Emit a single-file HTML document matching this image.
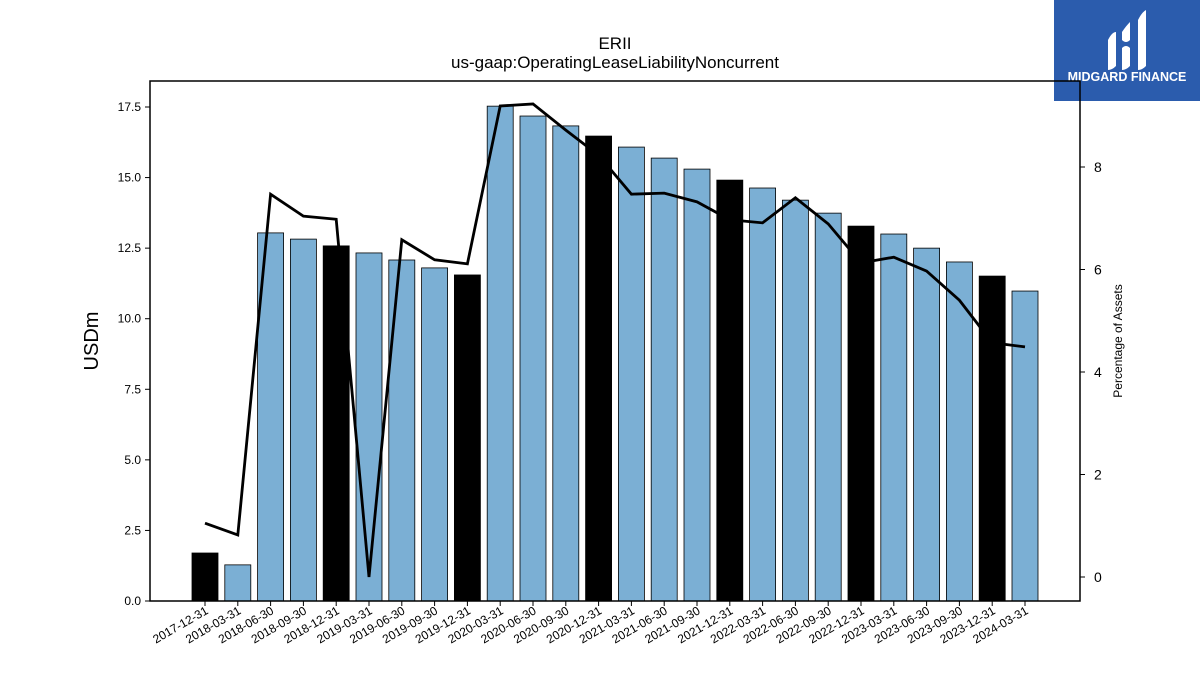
<!DOCTYPE html>
<html><head><meta charset="utf-8"><style>
body{margin:0;background:#fff;width:1200px;height:675px;overflow:hidden;font-family:"Liberation Sans","DejaVu Sans",sans-serif}
</style></head><body>
<svg id="c" width="1200" height="675" xmlns="http://www.w3.org/2000/svg">
<text x="615" y="49" text-anchor="middle" font-size="17">ERII</text>
<text x="615" y="68" text-anchor="middle" font-size="17">us-gaap:OperatingLeaseLiabilityNoncurrent</text>
<g>
<rect x="1054" y="0" width="146" height="101" fill="#2b5cad"/>
<path d="M1108 40 q4-8 8-8 v34 q-4 4-8 4z M1122 32 q4-6 8-10 v18 q-4 4-8 0z M1122 48 q4 -4 8 0 v18 q-4 4-8 4z M1138 20 q4-8 8-10 v56 q-4 4-8 4z" fill="#fff"/>
<text x="1127" y="81" text-anchor="middle" font-size="12.5" font-weight="bold" fill="#fff">MIDGARD FINANCE</text>
</g>
<g id="plot"></g>
</svg>
<script>
const categories=["2017-12-31","2018-03-31","2018-06-30","2018-09-30","2018-12-31","2019-03-31","2019-06-30","2019-09-30","2019-12-31","2020-03-31","2020-06-30","2020-09-30","2020-12-31","2021-03-31","2021-06-30","2021-09-30","2021-12-31","2022-03-31","2022-06-30","2022-09-30","2022-12-31","2023-03-31","2023-06-30","2023-09-30","2023-12-31","2024-03-31"];
const barValues=[1.7,1.28,13.04,12.82,12.58,12.33,12.08,11.8,11.55,17.53,17.18,16.83,16.47,16.08,15.69,15.3,14.91,14.63,14.2,13.74,13.28,13.0,12.5,12.01,11.51,10.98];
const lineValues=[1.05,0.82,7.47,7.04,6.98,0,6.58,6.19,6.11,9.19,9.23,8.72,8.23,7.47,7.49,7.32,6.97,6.91,7.4,6.89,6.13,6.24,5.97,5.4,4.57,4.49];
const leftTicks=[0,2.5,5,7.5,10,12.5,15,17.5];
const rightTicks=[0,2,4,6,8];
const NS="http://www.w3.org/2000/svg";
const g=document.getElementById('plot');
const L=150,R=1080,T=81,B=601;
const yL=v=>601-v*(494/17.5);
const yR=v=>577-v*(410/8);
const xC=i=>205+i*32.8;
function mk(t,a,txt){const e=document.createElementNS(NS,t);for(const k in a)e.setAttribute(k,a[k]);if(txt!==undefined)e.textContent=txt;g.appendChild(e);return e;}
categories.forEach((c,i)=>{
 const dec=c.endsWith("12-31");
 const b=mk('rect',{x:xC(i)-13,y:yL(barValues[i]),width:26,height:B-yL(barValues[i]),fill:dec?'#000':'#7bafd4',stroke:'#000','stroke-width':0.8});
 
 
 const tk=mk('line',{x1:xC(i),x2:xC(i),y1:B,y2:B+5,stroke:'#000'});
 
 
 const tx=mk('text',{x:xC(i)+4,y:B+12,'font-size':12,'text-anchor':'end',transform:`rotate(-30 ${xC(i)+4} ${B+12})`},c);
 
 
});
const pl=mk('polyline',{points:lineValues.map((v,i)=>xC(i)+','+yR(v)).join(' '),fill:'none',stroke:'#000','stroke-width':2.8});


const fr=mk('rect',{x:L,y:T,width:R-L,height:B-T,fill:'none',stroke:'#000','stroke-width':1.5});


leftTicks.forEach(v=>{
 mk('line',{x1:L-5,x2:L,y1:yL(v),y2:yL(v),stroke:'#000'});
 const t=mk('text',{x:L-9,y:yL(v)+4,'font-size':12,'text-anchor':'end'},v.toFixed(1));
 
 
});
rightTicks.forEach(v=>{
 mk('line',{x1:R,x2:R+5,y1:yR(v),y2:yR(v),stroke:'#000'});
 const t=mk('text',{x:R+14,y:yR(v)+5,'font-size':14},String(v));
 
 
});
const yt=mk('text',{x:98,y:341,'font-size':20,'text-anchor':'middle',transform:'rotate(-90 98 341)'},'USDm');


const yt2=mk('text',{x:1122,y:341,'font-size':12,'text-anchor':'middle',transform:'rotate(-90 1122 341)'},'Percentage of Assets');


</script>
</body></html>
